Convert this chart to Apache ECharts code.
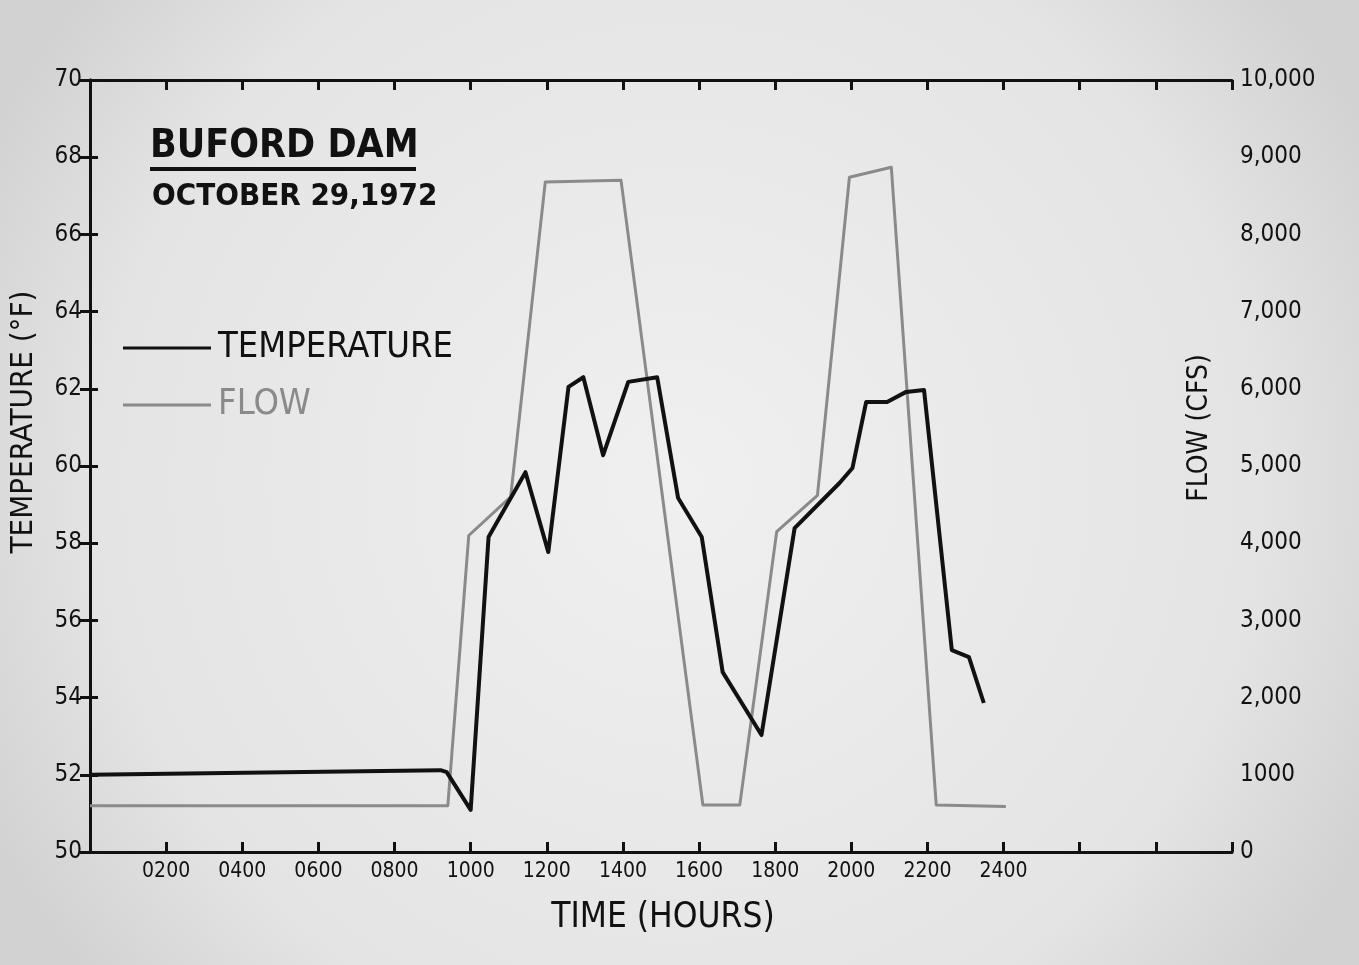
<!DOCTYPE html>
<html>
<head>
<meta charset="utf-8">
<script src="https://cdn.jsdelivr.net/npm/echarts@6/dist/echarts.min.js"></script>
<style>
html,body{margin:0;padding:0;background:#e2e2e2;}
#chart{width:1359px;height:965px;}
</style>
</head>
<body>
<div id="chart"></div>
<script>
// Time in hours (decimal)
const tempHours  = [0, 9.21, 9.37, 10.0, 10.47, 11.44, 12.04, 12.57, 12.96, 13.48, 14.14, 14.9, 15.45, 16.07, 16.62, 17.64, 18.51, 19.69, 20.03, 20.39, 20.94, 21.44, 21.91, 22.64, 23.09, 23.48];
const tempValues = [52.0, 52.12, 52.07, 51.09, 58.16, 59.84, 57.77, 62.05, 62.3, 60.28, 62.18, 62.3, 59.17, 58.16, 54.66, 53.03, 58.39, 59.56, 59.95, 61.66, 61.66, 61.92, 61.97, 55.23, 55.05, 53.86];
const flowHours  = [0, 9.4, 9.95, 11.05, 11.96, 13.95, 16.1, 17.07, 18.04, 19.11, 19.95, 21.05, 22.23, 24.06];
const flowValues = [600, 600, 4100, 4600, 8680, 8700, 610, 610, 4150, 4620, 8740, 8870, 610, 590];
const tempTickLabels = ['50','52','54','56','58','60','62','64','66','68','70'];
const flowTickLabels = ['0','1000','2,000','3,000','4,000','5,000','6,000','7,000','8,000','9,000','10,000'];
const timeTickLabels = ['0200','0400','0600','0800','1000','1200','1400','1600','1800','2000','2200','2400'];

const FONT = '"DejaVu Sans Condensed","DejaVu Sans",sans-serif';
const chart = echarts.init(document.getElementById('chart'), null, {renderer:'canvas'});

const pair = (xs, ys) => xs.map((x, i) => [x, ys[i]]);

const axisLine = {show:true, lineStyle:{color:'#111', width:3}};
const option = {
  backgroundColor: {
    type:'radial', x:0.5, y:0.5, r:0.8,
    colorStops:[{offset:0,color:'#f0f0f0'},{offset:0.75,color:'#e4e4e4'},{offset:1,color:'#d2d2d2'}]
  },
  animation:false,
  grid:{left:90, right:127, top:80, bottom:113},
  legend:{
    orient:'vertical', left:123, top:330, padding:0, itemWidth:88, itemHeight:3, itemGap:21, icon:'rect',
    textStyle:{fontFamily:FONT, fontSize:36, padding:[0,0,0,2]},
    data:[
      {name:'TEMPERATURE', textStyle:{color:'#111'}},
      {name:'FLOW', textStyle:{color:'#8a8a8a'}}
    ]
  },
  xAxis:[{
    type:'value', min:0, max:30, interval:2, position:'bottom',
    axisLine:axisLine,
    axisTick:{show:true, inside:true, length:10, lineStyle:{color:'#111', width:3}},
    axisLabel:{
      fontFamily:FONT, fontSize:21, color:'#111', margin:9,
      formatter:v => (v >= 2 && v <= 24) ? timeTickLabels[v/2 - 1] : ''
    },
    splitLine:{show:false}
  },{
    type:'value', min:0, max:30, interval:2, position:'top',
    axisLine:axisLine,
    axisTick:{show:true, inside:true, length:10, lineStyle:{color:'#111', width:3}},
    axisLabel:{show:false},
    splitLine:{show:false}
  }],
  yAxis:[{
    type:'value', min:50, max:70, interval:2, position:'left',
    axisLine:axisLine,
    axisTick:{show:true, inside:true, length:8, lineStyle:{color:'#111', width:3}},
    axisLabel:{fontFamily:FONT, fontSize:24, color:'#111', margin:8,
      formatter:v => tempTickLabels[Math.round((v-50)/2)]},
    splitLine:{show:false}
  },{
    type:'value', min:0, max:10000, interval:1000, position:'right',
    axisLine:axisLine,
    axisTick:{show:true, inside:true, length:10, lineStyle:{color:'#111', width:3}},
    axisLabel:{fontFamily:FONT, fontSize:24, color:'#111', margin:8,
      formatter:v => flowTickLabels[Math.round(v/1000)]},
    splitLine:{show:false}
  }],
  series:[{
    name:'TEMPERATURE', type:'line', xAxisIndex:0, yAxisIndex:0, symbol:'none',
    lineStyle:{color:'#111', width:4, join:'round'}, itemStyle:{color:'#111'},
    data:pair(tempHours, tempValues), z:3
  },{
    name:'FLOW', type:'line', xAxisIndex:0, yAxisIndex:1, symbol:'none',
    lineStyle:{color:'#8a8a8a', width:3, join:'round'}, itemStyle:{color:'#8a8a8a'},
    data:pair(flowHours, flowValues), z:2
  }],
  graphic:[
    {type:'text', left:150, top:127, style:{text:'BUFORD DAM', font:'bold 39px '+FONT, fill:'#111'}},
    {type:'line', shape:{x1:150, y1:169, x2:416, y2:169}, style:{stroke:'#111', lineWidth:4}},
    {type:'text', left:152, top:181, style:{text:'OCTOBER 29,1972', font:'bold 31px '+FONT, fill:'#111'}},
    {type:'text', x:24, y:422, rotation:Math.PI/2, style:{text:'TEMPERATURE (°F)', font:'31px '+FONT, fill:'#111', align:'center', verticalAlign:'middle'}},
    {type:'text', x:1200, y:428, rotation:Math.PI/2, style:{text:'FLOW (CFS)', font:'28px '+FONT, fill:'#111', align:'center', verticalAlign:'middle'}},
    {type:'text', x:663, y:918, style:{text:'TIME (HOURS)', font:'35px '+FONT, fill:'#111', align:'center', verticalAlign:'middle'}}
  ]
};
chart.setOption(option);
</script>
</body>
</html>
